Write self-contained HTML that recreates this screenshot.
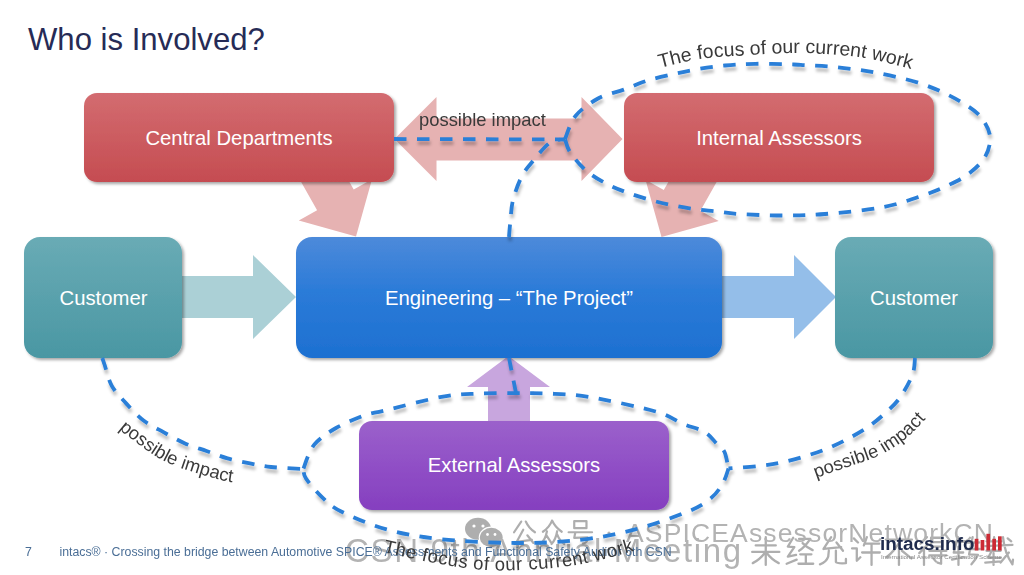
<!DOCTYPE html>
<html><head><meta charset="utf-8">
<style>
html,body{margin:0;padding:0;background:#fff;}
body{width:1024px;height:575px;overflow:hidden;position:relative;font-family:"Liberation Sans",sans-serif;}
svg{position:absolute;left:0;top:0;}
</style></head><body>
<svg width="1024" height="575" viewBox="0 0 1024 575">
<defs>
<linearGradient id="gRed" x1="0" y1="0" x2="0" y2="1"><stop offset="0" stop-color="#d36c70"/><stop offset="1" stop-color="#c54c51"/></linearGradient>
<linearGradient id="gBlue" x1="0" y1="0" x2="0" y2="1"><stop offset="0" stop-color="#4d8ada"/><stop offset="0.45" stop-color="#2b7bd8"/><stop offset="1" stop-color="#1d70d1"/></linearGradient>
<linearGradient id="gTeal" x1="0" y1="0" x2="0" y2="1"><stop offset="0" stop-color="#69abb5"/><stop offset="1" stop-color="#4a97a3"/></linearGradient>
<linearGradient id="gPurp" x1="0" y1="0" x2="0" y2="1"><stop offset="0" stop-color="#9b61cb"/><stop offset="0.5" stop-color="#904fc6"/><stop offset="1" stop-color="#853fbf"/></linearGradient>
<filter id="sh" x="-10%" y="-10%" width="125%" height="130%"><feGaussianBlur in="SourceAlpha" stdDeviation="1.6"/><feOffset dx="1.5" dy="2" result="b"/><feFlood flood-color="#000" flood-opacity="0.35"/><feComposite in2="b" operator="in"/><feMerge><feMergeNode/><feMergeNode in="SourceGraphic"/></feMerge></filter>
<filter id="dsh" x="-5%" y="-5%" width="115%" height="115%"><feGaussianBlur in="SourceAlpha" stdDeviation="1.6"/><feOffset dx="0.5" dy="3.5" result="b"/><feFlood flood-color="#000" flood-opacity="0.25"/><feComposite in2="b" operator="in"/><feMerge><feMergeNode/><feMergeNode in="SourceGraphic"/></feMerge></filter>
</defs>
<text x="28" y="50" font-size="31.1" fill="#262b56" font-family="Liberation Sans">Who is Involved?</text>

<!-- arrows -->
<polygon fill="#e6b2b2" points="356.0,236.5 298.8,220.5 317.1,210.2 287.6,157.9 324.2,137.3 353.7,189.6 372.0,179.3"/>
<polygon fill="#e6b2b2" points="661.5,237.0 645.5,179.8 663.8,190.1 693.3,137.8 729.9,158.4 700.4,210.7 718.7,221.0"/>
<polygon fill="#e6b2b2" points="394.5,139 436.5,97 436.5,118.5 581.5,118.5 581.5,97 622.5,139 581.5,181 581.5,160.5 436.5,160.5 436.5,181"/>
<polygon fill="#abd0d6" points="180,276 253,276 253,255 296,297 253,339 253,318 180,318"/>
<polygon fill="#94bee9" points="720,276 794,276 794,255 836,297 794,339 794,318 720,318"/>
<polygon fill="#c8a6de" points="508.5,356 550,387 530,387 530,423 488,423 488,387 467,387"/>

<!-- boxes -->
<g filter="url(#sh)">
<rect x="84" y="93" width="310" height="89" rx="13" fill="url(#gRed)"/>
<rect x="624" y="93" width="310" height="89" rx="13" fill="url(#gRed)"/>
<rect x="24" y="237" width="158" height="121" rx="16" fill="url(#gTeal)"/>
<rect x="835" y="237" width="158" height="121" rx="16" fill="url(#gTeal)"/>
<rect x="296" y="237" width="426" height="121" rx="16" fill="url(#gBlue)"/>
<rect x="359" y="421" width="310" height="89" rx="13" fill="url(#gPurp)"/>
</g>
<g fill="#fff" font-size="20.3" text-anchor="middle" font-family="Liberation Sans">
<text x="239" y="144.5">Central Departments</text>
<text x="779" y="144.5">Internal Assessors</text>
<text x="103.5" y="304.8">Customer</text>
<text x="914" y="304.8">Customer</text>
<text x="509" y="304.8">Engineering – “The Project”</text>
<text x="514" y="472.3">External Assessors</text>
</g>

<!-- watermark -->
<g opacity="0.8">
<g fill="#9a9a9a">
<ellipse cx="478" cy="528.7" rx="13" ry="11"/>
<ellipse cx="491.3" cy="537.5" rx="12.6" ry="10.9" fill="#fff"/>
<ellipse cx="491.3" cy="537.5" rx="11.4" ry="9.7"/>
<circle cx="474" cy="526" r="1.6" fill="#fff"/><circle cx="483" cy="526" r="1.6" fill="#fff"/>
<circle cx="487.5" cy="534.5" r="1.4" fill="#fff"/><circle cx="495" cy="534.5" r="1.4" fill="#fff"/>
</g>
<g fill="none" stroke="#9a9a9a" stroke-linecap="round" stroke-linejoin="round"><path transform="translate(511.0 519.5) scale(0.2550)" d="M40 8 L12 50 M58 8 Q70 35 94 50 M48 40 L22 88 L82 80 M64 62 L88 92" stroke-width="8.63"/><path transform="translate(539.3 519.5) scale(0.2550)" d="M50 4 Q40 30 14 48 M50 4 Q62 30 88 48 M30 46 Q24 80 4 96 M28 62 L46 90 M70 46 Q64 80 48 96 M70 58 Q80 84 98 96" stroke-width="8.63"/><path transform="translate(567.6 519.5) scale(0.2550)" d="M26 6 L74 6 L74 34 L26 34 Z M4 50 L96 50 M30 52 L26 72 L78 70 Q80 92 60 94" stroke-width="8.63"/><path transform="translate(751.0 536.0) scale(0.2950)" d="M16 32 L84 32 M4 54 L96 54 M50 4 L50 98 M48 56 Q30 80 6 92 M52 56 Q70 80 94 92" stroke-width="7.80"/><path transform="translate(784.3 536.0) scale(0.2950)" d="M30 6 L12 36 L34 38 L12 70 L40 64 M8 94 L42 80 M50 10 L88 10 Q70 38 50 50 M62 24 Q78 40 96 48 M54 62 L92 62 M73 62 L73 92 M48 94 L98 94" stroke-width="7.80"/><path transform="translate(817.6 536.0) scale(0.2950)" d="M46 4 L20 44 L80 38 M64 22 L86 50 M38 50 L36 70 Q30 88 8 96 M62 50 L62 88 Q64 94 96 92 L96 78" stroke-width="7.80"/><path transform="translate(850.9 536.0) scale(0.2950)" d="M10 8 L24 22 M4 42 L20 42 L20 84 L32 72 M54 4 L44 32 M46 26 L96 26 M38 56 L98 56 M70 26 L70 98" stroke-width="7.80"/><path transform="translate(884.2 536.0) scale(0.2950)" d="M6 12 L94 12 M56 14 Q36 50 8 72 M50 42 L50 98 M60 50 L92 76" stroke-width="7.80"/><path transform="translate(917.5 536.0) scale(0.2950)" d="M32 4 L10 26 M34 30 L6 58 M22 44 L22 98 M46 6 L84 6 L84 36 L46 36 Z M46 21 L84 21 M40 50 L98 50 M40 66 L98 66 M80 50 L80 94 L68 90 M54 76 L62 86" stroke-width="7.80"/><path transform="translate(950.8 536.0) scale(0.2950)" d="M6 20 L42 20 M24 4 L10 56 L42 56 M26 36 L26 98 M4 80 L44 72 M50 22 L96 22 M50 44 L98 44 M74 4 L62 62 L92 64 Q84 80 70 96" stroke-width="7.80"/><path transform="translate(984.1 536.0) scale(0.2950)" d="M8 18 L58 18 M34 4 L34 34 M4 34 L96 30 M8 50 L56 50 M30 42 L14 74 L56 74 M32 58 L32 98 M4 90 L58 86 M64 4 Q70 60 96 96 L98 80 M84 56 L56 90 M80 8 L92 18" stroke-width="7.80"/></g>
<g fill="#a0a0a0" font-family="Liberation Sans">
<text x="626" y="542.2" font-size="26.5" letter-spacing="1.15">ASPICEAssessorNetworkCN</text>
<circle cx="609" cy="533" r="1.6"/>
<text x="345" y="561.6" font-size="33" letter-spacing="1.65">CSN 9th Annual Meeting</text>
</g>
</g>

<!-- dashed lines -->
<g fill="none" stroke="#2a7fd8" stroke-width="3.8" stroke-linecap="butt" stroke-dasharray="12.5 10.5" filter="url(#dsh)">
<path d="M394 139 L565 139.5"/>
<path d="M565.0 139.0 C566.8 135.2 570.0 122.8 575.5 116.0 C581.0 109.2 590.0 102.9 598.0 98.5 C606.0 94.1 615.7 92.5 623.8 89.6 C631.9 86.6 638.6 83.3 646.6 80.8 C654.6 78.3 663.6 76.3 672.0 74.4 C680.4 72.5 688.2 70.8 697.0 69.3 C705.8 67.8 715.2 66.4 725.0 65.5 C734.8 64.6 744.2 64.0 755.7 63.8 C767.2 63.6 785.6 64.3 793.8 64.5 C802.0 64.7 799.1 64.9 804.7 65.2 C810.3 65.5 819.6 65.7 827.3 66.3 C835.0 66.9 843.1 67.8 850.8 68.8 C858.5 69.7 865.9 70.8 873.4 72.2 C880.9 73.6 888.3 75.1 896.0 76.9 C903.7 78.7 911.9 80.6 919.5 83.1 C927.1 85.6 934.3 88.5 941.4 91.7 C948.5 94.9 955.6 98.5 962.0 102.5 C968.4 106.5 975.3 110.4 980.0 116.0 C984.7 121.6 989.2 129.2 990.0 136.0 C990.8 142.8 988.7 150.6 985.0 157.0 C981.3 163.4 974.3 169.5 968.0 174.3 C961.7 179.1 954.0 182.5 947.0 185.8 C940.0 189.2 936.2 190.9 925.7 194.4 C915.2 197.9 900.8 203.7 884.0 207.0 C867.2 210.3 841.8 212.6 825.0 214.0 C808.2 215.4 797.3 215.5 783.0 215.5 C768.7 215.5 750.2 214.7 739.0 214.0 C727.8 213.3 723.5 212.1 716.0 211.3 C708.5 210.5 701.5 210.1 694.0 209.0 C686.5 207.9 678.5 206.6 671.0 205.0 C663.5 203.4 656.3 201.7 648.7 199.5 C641.1 197.3 632.9 194.8 625.6 192.0 C618.3 189.2 611.8 186.7 605.0 183.0 C598.2 179.3 590.8 174.8 585.0 169.6 C579.2 164.4 573.3 157.1 570.0 152.0 C566.7 146.9 565.8 141.2 565.0 139.0"/>
<path d="M509.0 237.0 C509.2 234.2 509.8 226.2 510.5 220.0 C511.2 213.8 511.1 207.3 513.0 200.0 C514.9 192.7 518.5 182.7 522.0 176.0 C525.5 169.3 529.6 165.2 534.0 159.8 C538.4 154.4 544.3 147.1 548.6 143.7 C552.9 140.3 558.1 140.2 560.0 139.5"/>
<path d="M303.5 468.5 C304.4 466.1 306.8 458.5 309.0 454.0 C311.2 449.5 312.5 445.9 317.0 441.6 C321.5 437.3 328.2 432.3 336.0 428.0 C343.8 423.7 355.3 418.6 363.5 415.6 C371.7 412.7 372.4 413.4 385.4 410.3 C398.4 407.2 426.2 399.7 441.5 396.9 C456.8 394.1 465.1 394.2 477.3 393.6 C489.6 393.0 503.3 393.2 515.0 393.2 C526.7 393.2 535.2 392.9 547.6 393.5 C560.0 394.1 571.3 394.0 589.3 397.0 C607.3 400.0 639.9 407.0 655.5 411.5 C671.1 416.0 674.6 420.4 682.8 423.8 C691.0 427.2 699.0 428.6 704.7 432.0 C710.4 435.4 713.7 440.7 717.0 444.0 C720.3 447.3 722.6 447.9 724.5 452.0 C726.4 456.1 727.8 465.8 728.5 468.5"/>
<path d="M728.5 468.5 C727.5 471.1 725.6 478.9 722.5 484.0 C719.4 489.1 716.0 494.3 710.0 499.0 C704.0 503.7 699.3 506.9 686.8 512.0 C674.3 517.1 653.1 524.7 635.2 529.4 C617.3 534.1 599.3 537.7 579.3 540.0 C559.3 542.3 538.3 543.2 515.0 543.0 C491.7 542.8 460.8 541.3 439.4 539.0 C418.0 536.7 402.9 533.9 386.6 529.4 C370.3 524.9 352.4 517.1 341.7 511.8 C331.0 506.5 328.4 503.2 322.5 497.7 C316.6 492.1 309.2 483.4 306.0 478.5 C302.8 473.6 303.9 470.2 303.5 468.5"/>
<path d="M509 358 L516 393"/>
<path d="M102.3 358.0 C102.7 359.1 102.9 359.9 104.5 364.5 C106.1 369.1 108.2 379.5 111.8 385.9 C115.4 392.3 120.7 397.4 125.9 403.1 C131.1 408.8 136.9 415.4 143.2 420.2 C149.5 425.0 156.5 428.3 163.5 432.2 C170.5 436.1 177.8 440.3 185.0 443.4 C192.2 446.5 199.4 448.5 206.5 451.0 C213.6 453.5 220.2 456.3 227.5 458.4 C234.8 460.5 242.8 462.0 250.0 463.4 C257.2 464.8 262.0 466.1 271.0 467.0 C280.0 467.9 298.5 468.7 304.0 469.0"/>
<path d="M915.0 358.0 C914.6 360.8 915.0 368.0 912.5 374.6 C910.0 381.2 904.4 391.2 900.0 397.5 C895.6 403.8 891.4 407.4 886.0 412.4 C880.6 417.3 874.2 422.8 867.8 427.2 C861.3 431.6 854.2 435.5 847.3 439.1 C840.4 442.7 833.4 446.1 826.2 449.0 C819.0 451.9 811.5 454.3 804.0 456.6 C796.5 458.9 788.8 461.0 781.2 462.6 C773.6 464.2 767.4 465.0 758.6 466.0 C749.8 467.0 733.5 468.1 728.5 468.5"/>
</g>

<!-- handwritten labels -->
<defs>
<path id="arcTop" d="M660.0 68.0 C666.7 66.5 685.0 61.2 700.0 59.0 C715.0 56.8 734.0 56.0 750.0 55.0 C766.0 54.0 781.0 53.0 796.0 53.0 C811.0 53.0 827.7 54.0 840.0 55.0 C852.3 56.0 857.5 56.5 870.0 59.0 C882.5 61.5 907.5 68.2 915.0 70.0"/>
<path id="arcBot" d="M383.0 552.0 C389.0 553.3 407.5 557.7 419.0 560.0 C430.5 562.3 441.8 564.4 452.0 566.0 C462.2 567.6 470.8 568.8 480.0 569.5 C489.2 570.2 493.5 570.9 507.0 570.5 C520.5 570.1 545.5 568.8 561.0 567.0 C576.5 565.2 585.2 563.5 600.0 560.0 C614.8 556.5 641.7 548.3 650.0 546.0"/>
<path id="arcL" d="M119.0 429.0 C120.7 430.3 121.2 431.5 129.0 437.0 C136.8 442.5 151.3 455.0 166.0 462.0 C180.7 469.0 204.7 475.5 217.0 479.0 C229.3 482.5 236.2 482.3 240.0 483.0"/>
<path id="arcR" d="M816.0 478.0 C818.3 477.2 820.8 476.2 830.0 473.0 C839.2 469.8 861.7 462.5 871.0 459.0 C880.3 455.5 879.7 455.8 886.0 452.0 C892.3 448.2 901.7 442.3 909.0 436.0 C916.3 429.7 926.5 417.7 930.0 414.0"/>
</defs>
<g fill="#3a3a3a" font-size="18.4" font-family="Liberation Sans">
<text x="419" y="126">possible impact</text>
<text font-size="19.5"><textPath href="#arcTop">The focus of our current work</textPath></text>
<text><textPath href="#arcL">possible impact</textPath></text>
<text><textPath href="#arcR">possible impact</textPath></text>
</g>

<!-- footer -->
<g fill="#4a6e96" font-size="12.3" font-family="Liberation Sans">
<text x="25" y="555.7">7</text>
<text x="59.5" y="555.7">intacs® · Crossing the bridge between Automotive SPICE® Assessments and Functional Safety Auditor 6th CSN</text>
</g>

<text font-size="18.5" fill="#3a3a3a" font-family="Liberation Sans" letter-spacing="0.5"><textPath href="#arcBot">The focus of our current work</textPath></text>
<!-- logo -->
<text x="880" y="550.3" font-size="18.9" font-weight="bold" fill="#1f2b4d" font-family="Liberation Sans">intacs.info</text>
<g fill="#cc2b35"><rect x="974.7" y="538.8" width="3.7" height="11.7"/><rect x="980.6" y="540.0" width="3.7" height="10.5"/><rect x="986.4" y="533.8" width="3.7" height="16.7"/><rect x="992.3" y="538.8" width="3.7" height="11.7"/><rect x="998.0" y="536.3" width="3.7" height="14.2"/></g>
<text x="881" y="559" font-size="5.2" fill="#888" font-family="Liberation Sans" textLength="121" lengthAdjust="spacingAndGlyphs">International Assessor Certification Scheme</text>

</svg>
</body></html>
